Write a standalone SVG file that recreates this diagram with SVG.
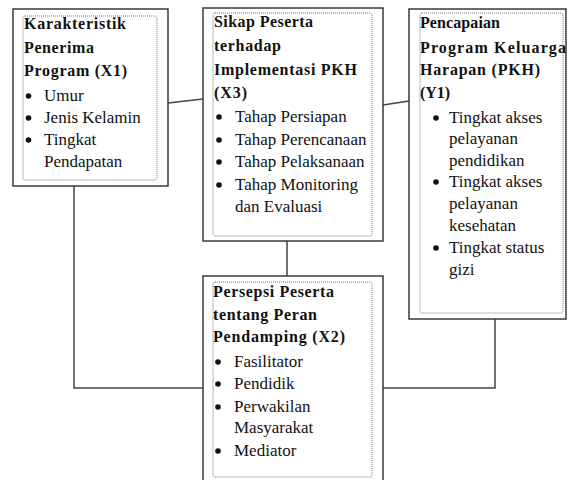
<svg xmlns="http://www.w3.org/2000/svg" width="567" height="480" viewBox="0 0 567 480">
<style>
.outer{fill:#fff;stroke:#3a3a3a;stroke-width:1.5}
.inner{fill:none;stroke:#777;stroke-width:1;stroke-dasharray:1 1}
.h{font-family:"Liberation Serif","Times New Roman",serif;font-weight:bold;font-size:16px;fill:#111}
.t{font-family:"Liberation Serif","Times New Roman",serif;font-size:17px;fill:#111}
.b{fill:#111}
.c{fill:none;stroke:#444;stroke-width:1.5}
</style>
<rect x="0" y="0" width="567" height="480" fill="#fff"/>
<g id="connectors">
<line class="c" x1="168" y1="103" x2="203" y2="99"/>
<line class="c" x1="383" y1="105" x2="409" y2="101"/>
<polyline class="c" points="74,186 74,388 203,388"/>
<line class="c" x1="287" y1="241" x2="287" y2="276"/>
<polyline class="c" points="383,388 495,388 495,319"/>
</g>
<g id="x1">
<rect class="outer" x="13" y="9" width="155" height="177"/>
<rect class="inner" x="23" y="16" width="134" height="164" rx="2"/>
<text class="h" x="24" y="29" textLength="102" lengthAdjust="spacing">Karakteristik</text>
<text class="h" x="24" y="53" textLength="70" lengthAdjust="spacing">Penerima</text>
<text class="h" x="24" y="76" textLength="103" lengthAdjust="spacing">Program (X1)</text>
<circle class="b" cx="28.5" cy="96" r="2.8"/><text class="t" x="44" y="101">Umur</text>
<circle class="b" cx="28.5" cy="118" r="2.8"/><text class="t" x="44" y="123">Jenis Kelamin</text>
<circle class="b" cx="28.5" cy="140" r="2.8"/><text class="t" x="44" y="145">Tingkat</text>
<text class="t" x="44" y="167">Pendapatan</text>
</g>
<g id="x3">
<rect class="outer" x="203" y="8" width="180" height="233"/>
<rect class="inner" x="213" y="13" width="159" height="223" rx="2"/>
<text class="h" x="214" y="27" textLength="99" lengthAdjust="spacing">Sikap Peserta</text>
<text class="h" x="214" y="51" textLength="67" lengthAdjust="spacing">terhadap</text>
<text class="h" x="214" y="75" textLength="143" lengthAdjust="spacing">Implementasi PKH</text>
<text class="h" x="214" y="98" textLength="33" lengthAdjust="spacing">(X3)</text>
<circle class="b" cx="219" cy="117" r="2.8"/><text class="t" x="235" y="122">Tahap Persiapan</text>
<circle class="b" cx="219" cy="140" r="2.8"/><text class="t" x="235" y="145">Tahap Perencanaan</text>
<circle class="b" cx="219" cy="162" r="2.8"/><text class="t" x="235" y="167">Tahap Pelaksanaan</text>
<circle class="b" cx="219" cy="185" r="2.8"/><text class="t" x="235" y="190">Tahap Monitoring</text>
<text class="t" x="235" y="212">dan Evaluasi</text>
</g>
<g id="y1">
<rect class="outer" x="409" y="9" width="157" height="310"/>
<rect class="inner" x="420" y="13" width="143" height="300" rx="2"/>
<text class="h" x="420" y="28" textLength="80" lengthAdjust="spacing">Pencapaian</text>
<text class="h" x="420" y="53" textLength="146" lengthAdjust="spacing">Program Keluarga</text>
<text class="h" x="420" y="75" textLength="120" lengthAdjust="spacing">Harapan (PKH)</text>
<text class="h" x="420" y="98" textLength="30" lengthAdjust="spacing">(Y1)</text>
<circle class="b" cx="436" cy="118" r="2.8"/><text class="t" x="449" y="123">Tingkat akses</text>
<text class="t" x="449" y="144">pelayanan</text>
<text class="t" x="449" y="166">pendidikan</text>
<circle class="b" cx="436" cy="182" r="2.8"/><text class="t" x="449" y="187">Tingkat akses</text>
<text class="t" x="449" y="209">pelayanan</text>
<text class="t" x="449" y="231">kesehatan</text>
<circle class="b" cx="436" cy="248" r="2.8"/><text class="t" x="449" y="253">Tingkat status</text>
<text class="t" x="449" y="275">gizi</text>
</g>
<g id="x2">
<rect class="outer" x="203" y="276" width="180" height="210"/>
<rect class="inner" x="213" y="282" width="159" height="195" rx="2"/>
<text class="h" x="213" y="297" textLength="121" lengthAdjust="spacing">Persepsi Peserta</text>
<text class="h" x="213" y="320" textLength="104" lengthAdjust="spacing">tentang Peran</text>
<text class="h" x="213" y="342" textLength="132" lengthAdjust="spacing">Pendamping (X2)</text>
<circle class="b" cx="218" cy="362" r="2.8"/><text class="t" x="234" y="367">Fasilitator</text>
<circle class="b" cx="218" cy="384" r="2.8"/><text class="t" x="234" y="389">Pendidik</text>
<circle class="b" cx="218" cy="407" r="2.8"/><text class="t" x="234" y="412">Perwakilan</text>
<text class="t" x="234" y="433">Masyarakat</text>
<circle class="b" cx="218" cy="451" r="2.8"/><text class="t" x="234" y="456">Mediator</text>
</g>
</svg>
